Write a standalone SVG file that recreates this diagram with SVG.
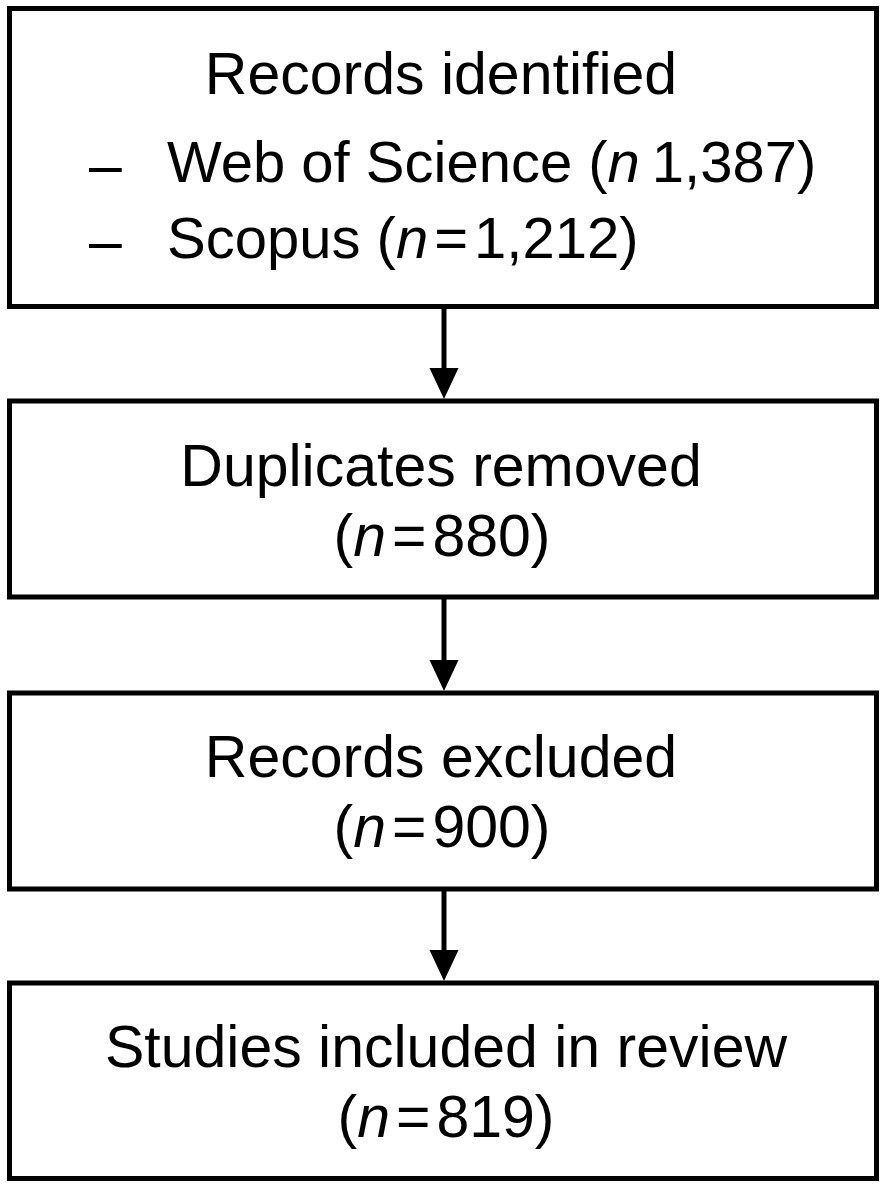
<svg xmlns="http://www.w3.org/2000/svg" width="886" height="1190" viewBox="0 0 886 1190">
<style>
.box{fill:#fff;stroke:#000;stroke-width:5}
.t{font-family:"Liberation Sans",Arial,sans-serif;font-size:59px;fill:#000}
.s{font-size:58px}
.c{text-anchor:middle}
.i{font-style:italic}
.ln{stroke:#000;stroke-width:5;fill:none}
.hd{fill:#000}
</style>
<rect width="886" height="1190" fill="#fff"/>
<g id="connectors">
<line class="ln" x1="444" y1="309" x2="444" y2="372"/>
<polygon class="hd" points="429.5,368 458.5,368 444,399"/>
<line class="ln" x1="444" y1="599" x2="444" y2="664"/>
<polygon class="hd" points="429.5,660 458.5,660 444,691"/>
<line class="ln" x1="444" y1="891" x2="444" y2="954"/>
<polygon class="hd" points="429.5,950 458.5,950 444,981"/>
</g>
<g id="n1">
<rect class="box" x="9.5" y="8.5" width="867" height="298"/>
<text class="t c" x="441" y="94">Records identified</text>
<text class="t" x="89" y="185">–</text>
<text class="t s" x="167" y="182">Web of Science (<tspan class="i">n</tspan><tspan dx="12">1,387)</tspan></text>
<text class="t" x="89" y="261">–</text>
<text class="t s" x="167" y="258">Scopus (<tspan class="i">n</tspan><tspan dx="6">=</tspan><tspan dx="6">1,212)</tspan></text>
</g>
<g id="n2">
<rect class="box" x="9.5" y="401" width="867" height="196"/>
<text class="t c" x="441" y="486">Duplicates removed</text>
<text class="t c" x="442" y="556">(<tspan class="i">n</tspan><tspan dx="6">=</tspan><tspan dx="6">880)</tspan></text>
</g>
<g id="n3">
<rect class="box" x="9.5" y="693" width="867" height="196"/>
<text class="t c" x="441" y="777">Records excluded</text>
<text class="t c" x="442" y="847">(<tspan class="i">n</tspan><tspan dx="6">=</tspan><tspan dx="6">900)</tspan></text>
</g>
<g id="n4">
<rect class="box" x="9.5" y="983" width="867" height="195.5"/>
<text class="t c" x="446" y="1067">Studies included in review</text>
<text class="t c" x="446" y="1137">(<tspan class="i">n</tspan><tspan dx="6">=</tspan><tspan dx="6">819)</tspan></text>
</g>
</svg>
